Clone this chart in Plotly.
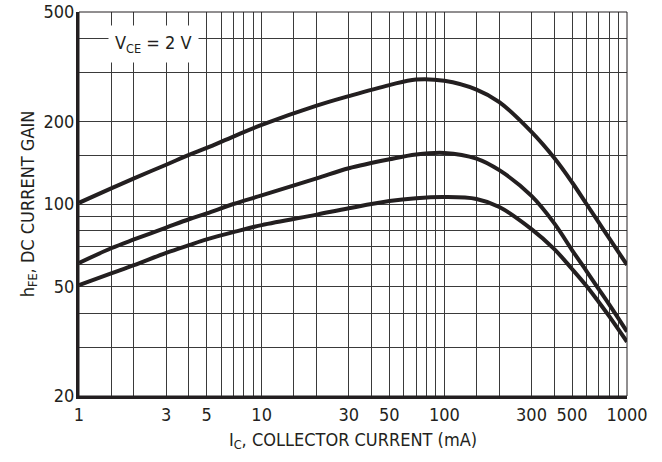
import plotly.graph_objects as go

# Collector current (mA)
ic = [1, 1.5, 2, 3, 4, 5, 7, 10, 20, 30, 50, 70, 100, 150, 200, 300, 400, 500, 600, 700, 800, 1000]

# DC current gain curves (top / middle / bottom)
hfe_top = [101, 114, 124, 139, 151, 160, 176, 194, 228, 247, 271, 284, 281, 261, 235, 183, 147, 120, 100, 85.7, 75, 60]
hfe_mid = [61, 69, 74.3, 82, 88, 92.4, 100, 107.5, 124, 135, 145.5, 151.5, 153.5, 146.4, 132.8, 107, 85, 68, 57, 49, 43, 34.3]
hfe_low = [50.7, 55.9, 59.9, 66.4, 70.8, 74.3, 79, 83.8, 91.5, 96.5, 102.5, 105, 106, 104.3, 97.5, 81, 68.5, 58, 50.3, 44, 39, 31.5]

x_ticks = [1, 3, 5, 10, 30, 50, 100, 300, 500, 1000]
x_minor = [1.5, 2, 4, 6, 7, 8, 9, 15, 20, 40, 60, 70, 80, 90, 150, 200, 400, 600, 700, 800, 900]
y_ticks = [20, 50, 100, 200, 500]
y_minor = [30, 40, 60, 70, 80, 90, 150, 300, 400]

INK = "#231f20"
GRID = "#3a3a3a"
FONT = "DejaVu Sans Condensed"

fig = go.Figure()
for ys in (hfe_top, hfe_mid, hfe_low):
    fig.add_trace(go.Scatter(x=ic, y=ys, mode="lines",
                             line=dict(color=INK, width=4, shape="spline", smoothing=1.0),
                             showlegend=False, hoverinfo="skip"))

fig.update_xaxes(type="log", range=[0, 3], automargin=False, ticklabeloverflow="allow",
                 tickvals=x_ticks, ticktext=[str(v) for v in x_ticks],
                 showgrid=True, gridcolor=GRID, gridwidth=1,
                 minor=dict(tickvals=x_minor, showgrid=True, gridcolor=GRID, gridwidth=1, ticks=""),
                 showline=True, linecolor=INK, linewidth=3, ticks="",
                 zeroline=False,
                 tickfont=dict(family=FONT, size=18, color=INK),
                 title=dict(text="I<sub>C</sub>, COLLECTOR CURRENT (mA)",
                            font=dict(family=FONT, size=18, color=INK), standoff=10))
fig.update_yaxes(type="log", range=[1.30103, 2.69897], automargin=False, ticklabeloverflow="allow",
                 tickvals=y_ticks, ticktext=[str(v) for v in y_ticks],
                 showgrid=True, gridcolor=GRID, gridwidth=1,
                 minor=dict(tickvals=y_minor, showgrid=True, gridcolor=GRID, gridwidth=1, ticks=""),
                 showline=True, linecolor=INK, linewidth=3, ticks="",
                 zeroline=False, ticklabelstandoff=-2,
                 tickfont=dict(family=FONT, size=18, color=INK),
                 title=dict(text="h<sub>FE</sub>, DC CURRENT GAIN",
                            font=dict(family=FONT, size=18, color=INK), standoff=5))

fig.add_shape(type="rect", xref="paper", yref="paper", x0=0, x1=1, y0=0, y1=1,
              line=dict(color=INK, width=1), layer="above")

fig.add_annotation(xref="paper", yref="paper", x=0.136, y=0.916,
                   text="V<sub>CE</sub> = 2 V", showarrow=False,
                   font=dict(family=FONT, size=18, color=INK),
                   bgcolor="white", borderpad=6, xanchor="center", yanchor="middle")

fig.update_layout(width=662, height=462,
                  margin=dict(l=79, r=35, t=12, b=66, autoexpand=False),
                  paper_bgcolor="white", plot_bgcolor="white")

fig.write_html("out.html", config={"displayModeBar": False},
               post_script="document.body.style.margin='0';")
